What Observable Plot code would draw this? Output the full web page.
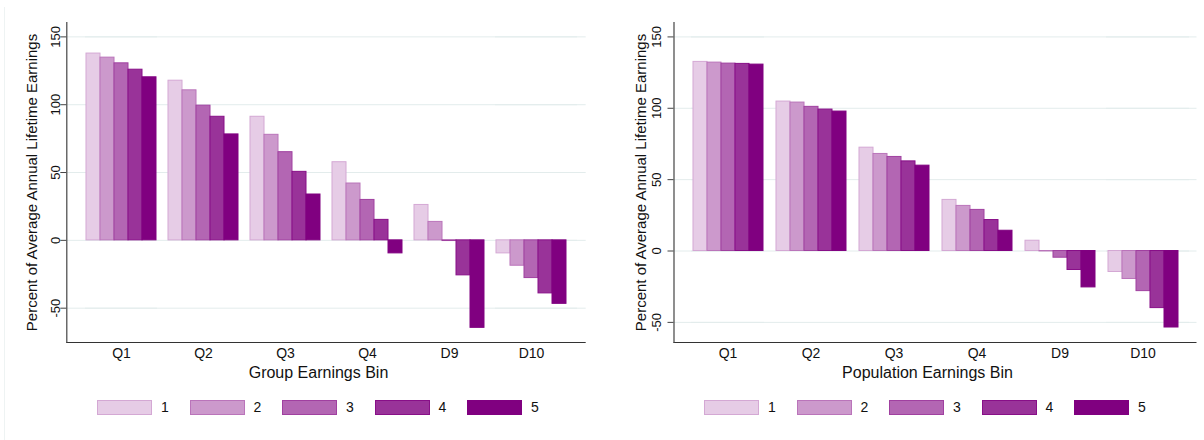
<!DOCTYPE html>
<html><head><meta charset="utf-8">
<script src="https://cdn.jsdelivr.net/npm/d3@7"></script>
<script src="https://cdn.jsdelivr.net/npm/@observablehq/plot@0.6"></script>
<style>
body{margin:0;background:#fff;font-family:"Liberation Sans",Arial,sans-serif;}
#wrap{position:relative;width:1204px;height:440px;display:flex;}
.panel{width:602px;}
.legend{display:flex;height:15px;margin-top:10px;}
.item{display:flex;align-items:center;width:92.5px;font-size:14px;color:#111;line-height:15px}
.sw{width:55px;height:15px;box-sizing:border-box;border:1px solid;margin-right:9px}
#edge{position:absolute;left:4px;top:7px;bottom:0;border-left:1px solid #eef3f3}
</style></head>
<body>
<div id="wrap"><div id="edge"></div></div>
<script>
const bins = ["Q1","Q2","Q3","Q4","D9","D10"];
const seriesNames = ["1","2","3","4","5"];
const fillColors = ["#e6cce6","#cc99cc","#b366b3","#993399","#800080"];
const strokeColors = ["#d4a8d4","#ba74ba","#a040a0","#880f88","#800080"];
const yTicks = [-50, 0, 50, 100, 150];
const yLabel = "Percent of Average Annual Lifetime Earnings";

// Left panel: Group Earnings Bin
const groupS1 = [137.7, 117.7, 91.1, 57.6, 26.1, -9.6];
const groupS2 = [134.7, 110.6, 77.8, 41.9, 13.6, -18.7];
const groupS3 = [130.5, 99.3, 65.0, 29.8, -0.5, -27.8];
const groupS4 = [125.8, 91.1, 50.5, 15.1, -25.8, -39.1];
const groupS5 = [120.2, 78.1, 33.8, -9.6, -64.5, -46.8];

// Right panel: Population Earnings Bin
const popS1 = [132.5, 104.7, 72.4, 35.8, 7.2, -14.7];
const popS2 = [132.0, 104.0, 68.0, 31.6, -0.3, -19.6];
const popS3 = [131.3, 101.0, 65.9, 28.8, -4.7, -28.1];
const popS4 = [131.1, 99.1, 62.8, 21.7, -13.3, -40.0];
const popS5 = [130.6, 97.7, 59.8, 14.2, -25.5, -53.6];

function panel({series, xLabel, marginLeft, marginRight, yDomain, legendLeft, outer, tickLabelOffset, titleOffset}) {
  const width = 602, gap = 10;
  const W = width - marginLeft - marginRight;
  const step = (W + gap - 2 * outer) / bins.length;
  const data = series.flatMap((vals, si) => vals.map((v, bi) => ({
    bin: bins[bi], series: seriesNames[si], value: v, fill: fillColors[si], stroke: strokeColors[si]
  })));
  const gridStyle = {stroke: "#e3ecec", strokeOpacity: 1};
  const axisStyle = {stroke: "#333", strokeWidth: 1.2};
  const plot = Plot.plot({
    width, height: 390, marginLeft, marginRight, marginTop: 22, marginBottom: 48,
    style: {fontFamily: "'Liberation Sans', Arial, sans-serif", color: "#111", background: "transparent"},
    fx: {domain: bins, paddingInner: gap / step, paddingOuter: outer / step, label: null},
    x: {domain: seriesNames, padding: 0, axis: null},
    y: {domain: yDomain, axis: null},
    color: {type: "identity"},
    marks: [
      Plot.gridY(yTicks, {...gridStyle, insetRight: -gap}),
      Plot.gridY(yTicks, {...gridStyle, facetAnchor: "left", insetLeft: -outer}),
      Plot.gridY(yTicks, {...gridStyle, facetAnchor: "right", insetRight: -outer}),
      Plot.barY(data, {fx: "bin", x: "series", y: "value", fill: "fill", stroke: "stroke", strokeWidth: 1}),
      Plot.ruleY([yDomain[0]], {...axisStyle, insetRight: -gap}),
      Plot.ruleY([yDomain[0]], {...axisStyle, facetAnchor: "left", insetLeft: -outer}),
      Plot.ruleY([yDomain[0]], {...axisStyle, facetAnchor: "right", insetRight: -outer}),
      Plot.frame({anchor: "left", facetAnchor: "left", dx: -outer, stroke: "#444", strokeWidth: 1.2}),
      Plot.axisY(yTicks, {facetAnchor: "left", dx: -outer, tickSize: 6, tickFormat: () => "", stroke: "#444", label: null}),
      Plot.text(yTicks, {y: d => d, text: d => `${d}`, facetAnchor: "left", frameAnchor: "left",
        dx: -outer - tickLabelOffset, rotate: -90, textAnchor: "middle", lineAnchor: "middle", fontSize: 13, fill: "#111"}),
      Plot.text([yLabel], {facet: "super", frameAnchor: "left", textAnchor: "middle", rotate: -90,
        dx: -outer - titleOffset, fontSize: 15, fill: "#111"}),
      Plot.axisFx({anchor: "bottom", tickSize: 0, tickPadding: 6, fontSize: 14, label: null}),
      Plot.text([xLabel], {facet: "super", frameAnchor: "bottom", dy: 35, dx: -8, fontSize: 16, fill: "#111"})
    ]
  });
  const div = document.createElement("div");
  div.className = "panel";
  div.appendChild(plot);
  const leg = document.createElement("div");
  leg.className = "legend";
  leg.style.marginLeft = legendLeft + "px";
  seriesNames.forEach((s, i) => {
    const it = document.createElement("div");
    it.className = "item";
    const sw = document.createElement("div");
    sw.className = "sw";
    sw.style.background = fillColors[i];
    sw.style.borderColor = strokeColors[i];
    it.appendChild(sw);
    const t = document.createElement("span");
    t.textContent = s;
    it.appendChild(t);
    leg.appendChild(it);
  });
  div.appendChild(leg);
  return div;
}

const wrap = document.getElementById("wrap");
wrap.appendChild(panel({series: [groupS1, groupS2, groupS3, groupS4, groupS5], xLabel: "Group Earnings Bin",
  marginLeft: 64, marginRight: 13, yDomain: [-75.3, 160.6], legendLeft: 97, outer: 18.7,
  tickLabelOffset: 11, titleOffset: 35}));
wrap.appendChild(panel({series: [popS1, popS2, popS3, popS4, popS5], xLabel: "Population Earnings Bin",
  marginLeft: 71, marginRight: 7, yDomain: [-64.1, 160.1], legendLeft: 102, outer: 17.5,
  tickLabelOffset: 17, titleOffset: 33}));
</script>
</body></html>
